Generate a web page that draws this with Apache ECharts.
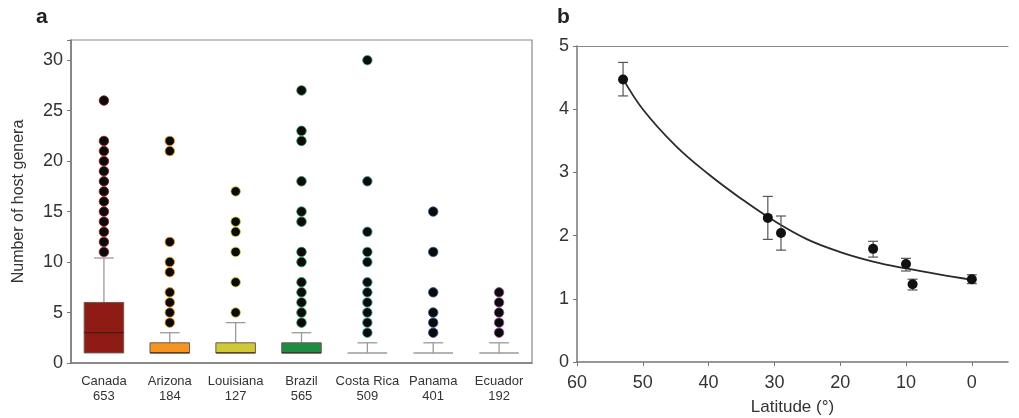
<!DOCTYPE html>
<html>
<head>
<meta charset="utf-8">
<script src="https://cdn.jsdelivr.net/npm/echarts@6/dist/echarts.min.js"></script>
<style>
html,body{margin:0;padding:0;background:#fff;}
#chart{width:1019px;height:418px;}
</style>
</head>
<body>
<div id="chart"></div>
<script>
// ---------- Panel a data ----------
const categories = ['Canada', 'Arizona', 'Louisiana', 'Brazil', 'Costa Rica', 'Panama', 'Ecuador'];
const sampleSizes = [653, 184, 127, 565, 509, 401, 192];
// [lower whisker, Q1, median, Q3, upper whisker]
const boxStats = [
  [1, 1, 3, 6, 10.4],
  [1, 1, 1, 2, 3],
  [1, 1, 1, 2, 4],
  [1, 1, 1, 2, 3],
  [1, 1, 1, 1, 2],
  [1, 1, 1, 1, 2],
  [1, 1, 1, 1, 2]
];
const outliersCanada = [11, 12, 13, 14, 15, 16, 17, 18, 19, 20, 21, 22, 26];
const outliersArizona = [4, 5, 6, 7, 9, 10, 12, 21, 22];
const outliersLouisiana = [5, 8, 11, 13, 14, 17];
const outliersBrazil = [4, 5, 6, 7, 8, 10, 11, 14, 15, 18, 22, 23, 27];
const outliersCostaRica = [3, 4, 5, 6, 7, 8, 10, 11, 13, 18, 30];
const outliersPanama = [3, 4, 5, 7, 11, 15];
const outliersEcuador = [3, 4, 5, 6, 7];
const yTicksA = [0, 5, 10, 15, 20, 25, 30];

// ---------- Panel b data ----------
const latitudes = [53, 31, 29, 15, 10, 9, 0];
const meanGenera = [4.47, 2.28, 2.04, 1.79, 1.55, 1.23, 1.31];
const errLow = [4.21, 1.94, 1.77, 1.66, 1.44, 1.14, 1.24];
const errHigh = [4.74, 2.62, 2.31, 1.91, 1.64, 1.31, 1.38];
const curveLat = [53, 50, 45, 40, 35, 30, 25, 20, 15, 10, 5, 0];
const curveVal = [4.48, 4.00, 3.42, 2.97, 2.58, 2.23, 1.94, 1.74, 1.59, 1.48, 1.385, 1.30];
const latTicks = [0, 10, 20, 30, 40, 50, 60];

// ---------- styles ----------
const boxFill = ['#8E1B14', '#F5951F', '#CEC934', '#1F8B45', null, null, null];
const haloColors = ['#8E1B14', '#F5951F', '#D8D03A', '#1F8B45', '#3FA7A0', '#2E5B9A', '#A0509A'];
const FONT = 'Liberation Sans, Arial, sans-serif';
const outlierLists = [outliersCanada, outliersArizona, outliersLouisiana, outliersBrazil,
  outliersCostaRica, outliersPanama, outliersEcuador];

const chart = echarts.init(document.getElementById('chart'), null, {renderer: 'canvas'});

const boxData = boxStats.map((s, i) => [i].concat(s));

function renderBox(params, api) {
  const i = api.value(0);
  const low = api.value(1), q1 = api.value(2), med = api.value(3), q3 = api.value(4), high = api.value(5);
  const band = api.size([1, 0])[0];
  const boxW = band * 0.6;
  const capW = band * 0.3;
  const c = api.coord([i, 0])[0];
  const yLow = api.coord([i, low])[1];
  const yQ1 = api.coord([i, q1])[1];
  const yMed = api.coord([i, med])[1];
  const yQ3 = api.coord([i, q3])[1];
  const yHigh = api.coord([i, high])[1];
  const whisk = {stroke: '#9a9a9a', lineWidth: 1.3};
  const children = [];
  children.push({type: 'line', shape: {x1: c, y1: yQ3, x2: c, y2: yHigh}, style: whisk});
  children.push({type: 'line', shape: {x1: c - capW / 2, y1: yHigh, x2: c + capW / 2, y2: yHigh}, style: whisk});
  if (low < q1) {
    children.push({type: 'line', shape: {x1: c, y1: yQ1, x2: c, y2: yLow}, style: whisk});
    children.push({type: 'line', shape: {x1: c - capW / 2, y1: yLow, x2: c + capW / 2, y2: yLow}, style: whisk});
  }
  const fill = boxFill[i];
  if (q3 > q1 && fill) {
    children.push({type: 'rect', shape: {x: c - boxW / 2, y: yQ3, width: boxW, height: yQ1 - yQ3},
      style: {fill: fill, stroke: '#6a5a50', lineWidth: 1}});
    children.push({type: 'line', shape: {x1: c - boxW / 2, y1: yMed, x2: c + boxW / 2, y2: yMed},
      style: {stroke: '#3a1a10', lineWidth: 1}});
  } else {
    children.push({type: 'line', shape: {x1: c - boxW / 2, y1: yQ1, x2: c + boxW / 2, y2: yQ1},
      style: {stroke: '#9a9a9a', lineWidth: 1.5}});
  }
  return {type: 'group', children: children};
}

function renderErr(params, api) {
  const x = api.value(0);
  const pLo = api.coord([x, api.value(1)]);
  const pHi = api.coord([x, api.value(2)]);
  const cap = 5;
  const st = {stroke: '#555', lineWidth: 1.2};
  return {type: 'group', children: [
    {type: 'line', shape: {x1: pLo[0], y1: pLo[1], x2: pHi[0], y2: pHi[1]}, style: st},
    {type: 'line', shape: {x1: pLo[0] - cap, y1: pLo[1], x2: pLo[0] + cap, y2: pLo[1]}, style: st},
    {type: 'line', shape: {x1: pHi[0] - cap, y1: pHi[1], x2: pHi[0] + cap, y2: pHi[1]}, style: st}
  ]};
}

const outlierSeries = outlierLists.map((list, i) => ({
  type: 'scatter',
  xAxisIndex: 0, yAxisIndex: 0,
  symbol: 'circle',
  symbolSize: 9.5,
  data: list.map(v => [categories[i], v]),
  itemStyle: {color: '#0b0b0b', borderColor: haloColors[i], borderWidth: 0.8, opacity: 1},
  z: 5,
  silent: true
}));

const axisLbl = {color: '#333', fontFamily: FONT};

const option = {
  backgroundColor: '#fff',
  animation: false,
  graphic: [
    {type: 'text', left: 36, top: 7, style: {text: 'a', font: 'bold 21px ' + FONT, fill: '#222'}},
    {type: 'text', left: 557, top: 7, style: {text: 'b', font: 'bold 21px ' + FONT, fill: '#222'}}
  ],
  grid: [
    {left: 71, right: 1019 - 532, top: 40, bottom: 55, show: true, borderColor: '#8a8a8a', borderWidth: 1.2,
      containLabel: false, outerBoundsMode: 'none'},
    {left: 577, right: 11, top: 46, bottom: 56, containLabel: false, outerBoundsMode: 'none'}
  ],
  xAxis: [
    {
      type: 'category', gridIndex: 0, data: categories,
      axisLine: {lineStyle: {color: '#777', width: 1.5}},
      axisTick: {alignWithLabel: true, length: 4, lineStyle: {color: '#777'}},
      axisLabel: Object.assign({}, axisLbl, {
        fontSize: 13, lineHeight: 15, margin: 11, interval: 0,
        formatter: (v, idx) => v + '\n' + sampleSizes[idx]
      })
    },
    {
      type: 'value', gridIndex: 1, inverse: true, min: -5.5, max: 60,
      splitLine: {show: false},
      axisLine: {onZero: false, lineStyle: {color: '#777', width: 1.5}},
      axisTick: {customValues: latTicks, length: 4, lineStyle: {color: '#777'}},
      axisLabel: Object.assign({}, axisLbl, {customValues: latTicks, fontSize: 18, margin: 12}),
      name: 'Latitude (\u00b0)', nameLocation: 'middle', nameGap: 37,
      nameTextStyle: {color: '#333', fontSize: 17, fontFamily: FONT}
    },
    {
      type: 'value', gridIndex: 1, inverse: true, min: -5.5, max: 60, position: 'top',
      axisLine: {show: true, onZero: false, lineStyle: {color: '#888', width: 1.2}},
      axisTick: {show: false}, axisLabel: {show: false}, splitLine: {show: false}
    }
  ],
  yAxis: [
    {
      type: 'value', gridIndex: 0, min: 0, max: 32, interval: 5,
      splitLine: {show: false},
      axisLine: {show: true, onZero: false, lineStyle: {color: '#777', width: 1.5}},
      axisTick: {show: true, length: 4, lineStyle: {color: '#777'}},
      axisLabel: Object.assign({}, axisLbl, {fontSize: 18, margin: 8, customValues: yTicksA}),
      name: 'Number of host genera', nameLocation: 'middle', nameRotate: 90, nameGap: 44,
      nameTextStyle: {color: '#333', fontSize: 16, fontFamily: FONT}
    },
    {
      type: 'value', gridIndex: 1, min: 0, max: 5, interval: 1, position: 'left',
      splitLine: {show: false},
      axisLine: {show: true, onZero: false, lineStyle: {color: '#777', width: 1.5}},
      axisTick: {show: true, length: 4, lineStyle: {color: '#777'}},
      axisLabel: Object.assign({}, axisLbl, {fontSize: 18, margin: 8})
    }
  ],
  series: [
    {
      type: 'custom', xAxisIndex: 0, yAxisIndex: 0,
      renderItem: renderBox, data: boxData, z: 3, silent: true,
      encode: {x: 0, y: [1, 2, 3, 4, 5]}
    }
  ].concat(outlierSeries).concat([
    {
      type: 'line', xAxisIndex: 1, yAxisIndex: 1,
      data: curveLat.map((x, i) => [x, curveVal[i]]),
      smooth: 0.4, showSymbol: false, symbol: 'none',
      lineStyle: {color: '#2a2a2a', width: 1.8}, z: 3, silent: true
    },
    {
      type: 'custom', xAxisIndex: 1, yAxisIndex: 1,
      renderItem: renderErr,
      data: latitudes.map((x, i) => [x, errLow[i], errHigh[i]]),
      encode: {x: 0, y: [1, 2]}, z: 4, silent: true
    },
    {
      type: 'scatter', xAxisIndex: 1, yAxisIndex: 1,
      data: latitudes.map((x, i) => [x, meanGenera[i]]),
      symbolSize: 10, itemStyle: {color: '#111', opacity: 1}, z: 5, silent: true
    }
  ])
};
chart.setOption(option);
</script>
</body>
</html>
